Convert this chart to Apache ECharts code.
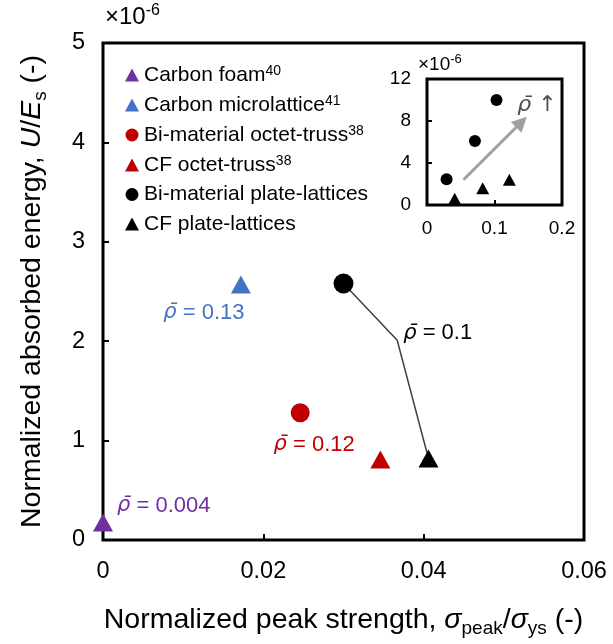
<!DOCTYPE html>
<html><head><meta charset="utf-8">
<script src="https://cdn.jsdelivr.net/npm/echarts@6/dist/echarts.min.js"></script>
<style>html,body{margin:0;padding:0;background:#fff}#c{width:613px;height:644px}</style>
</head><body><div id="c"></div>
<script>
// ---- data ----
const legendNames = ['Carbon foam', 'Carbon microlattice', 'Bi-material octet-truss', 'CF octet-truss', 'Bi-material plate-lattices', 'CF plate-lattices'];
const legendRefs = ['40', '41', '38', '38', '', ''];
const carbonFoam = [[0.0, 0.176]];
const carbonMicrolattice = [[0.0172, 2.57]];
const biOctetTruss = [[0.0246, 1.28]];
const cfOctetTruss = [[0.0346, 0.81]];
const biPlateLattices = [[0.0300, 2.58]];
const cfPlateLattices = [[0.0406, 0.82]];
const plateConnector = [[0.0300, 2.58], [0.0367, 2.01], [0.0406, 0.82]];
const densityLabels = ['0.004', '0.13', '0.12', '0.1'];
const insetBiPlate = [[0.029, 2.45], [0.071, 6.1], [0.103, 10.0]];
const insetCfPlate = [[0.041, 0.6], [0.0825, 1.6], [0.122, 2.4]];
const insetArrow = [[0.054, 2.4], [0.140, 7.9]];
const insetArrowLabelAt = [[0.163, 9.5]];
const mainXRange = [0, 0.06, 0.02];
const mainYRange = [0, 5, 1];
const insetXRange = [0, 0.2, 0.1];
const insetYRange = [0, 12, 4];

// ---- styles ----
const FF = 'Liberation Sans, Arial, sans-serif';
const RFF = 'DejaVu Sans, Liberation Sans, sans-serif';
const PURPLE = '#7030A0', BLUE = '#4472C4', RED = '#C00000', BLACK = '#000';
const RHO = 'ρ\u0304';

function rhoLabel(color, text, align, offset) {
  return {
    show: true, position: 'inside', align: align, verticalAlign: 'middle', offset: offset,
    formatter: '{i|' + RHO + '}{t| = ' + text + '}',
    rich: {
      i: {fontFamily: RFF, fontSize: 21, fontStyle: 'italic', color: color},
      t: {fontFamily: FF, fontSize: 22, color: color}
    }
  };
}

const chart = echarts.init(document.getElementById('c'), null, {renderer: 'canvas'});

function axisCommon(range, fontSize, margin, tickLen) {
  return {
    type: 'value', min: range[0], max: range[1], interval: range[2],
    axisLine: {show: false},
    axisTick: {show: true, inside: true, length: tickLen, lineStyle: {color: '#000', width: 2}},
    axisLabel: {fontFamily: FF, fontSize: fontSize, color: '#000', margin: margin},
    splitLine: {show: false}
  };
}

const nameRich = {
  t: {fontFamily: FF, fontSize: 28.5, color: '#000', lineHeight: 35},
  i: {fontFamily: FF, fontSize: 28.5, color: '#000', lineHeight: 35, fontStyle: 'italic'},
  sub: {fontFamily: FF, fontSize: 19, color: '#000', lineHeight: 16, verticalAlign: 'bottom'}
};

const solid = c => ({color: c, opacity: 1});

const option = {
  animation: false,
  backgroundColor: '#fff',
  grid: [
    {left: 103, top: 43, width: 481, height: 497, show: true, borderColor: '#000', borderWidth: 3, backgroundColor: 'transparent'},
    {left: 427, top: 79, width: 135, height: 126, show: true, borderColor: '#000', borderWidth: 3, backgroundColor: 'transparent'}
  ],
  xAxis: [
    Object.assign(axisCommon(mainXRange, 23.5, 20, 6), {
      gridIndex: 0,
      name: '{t|Normalized peak strength, }{i|σ}{sub|peak}{t|/}{i|σ}{sub|ys}{t| (-)}',
      nameLocation: 'middle', nameGap: 63,
      nameTextStyle: {rich: nameRich}
    }),
    Object.assign(axisCommon(insetXRange, 19, 14, 5), {gridIndex: 1})
  ],
  yAxis: [
    Object.assign(axisCommon(mainYRange, 23.5, 18, 6), {
      gridIndex: 0,
      name: '{t|Normalized absorbed energy, }{i|U}{t|/}{i|E}{sub|s}{t| (-)}',
      nameLocation: 'middle', nameGap: 53, nameRotate: 90,
      nameTextStyle: {rich: nameRich}
    }),
    Object.assign(axisCommon(insetYRange, 19, 16, 5), {gridIndex: 1})
  ],
  legend: {
    orient: 'vertical', left: 125, top: 64, padding: 0,
    itemWidth: 14, itemHeight: 13, itemGap: 8.5,
    data: legendNames.map((n, i) => ({name: n, icon: (i === 2 || i === 4) ? 'circle' : 'triangle'})),
    formatter: function (name) {
      const r = legendRefs[legendNames.indexOf(name)];
      return '{n|' + name + '}' + (r ? '{s|' + r + '}' : '');
    },
    textStyle: {
      fontFamily: FF, fontSize: 21, color: '#000',
      rich: {
        n: {fontFamily: FF, fontSize: 21, color: '#000', lineHeight: 22},
        s: {fontFamily: FF, fontSize: 14, color: '#000', lineHeight: 12, verticalAlign: 'top'}
      }
    }
  },
  graphic: [
    {type: 'text', left: 105, top: 3, style: {text: '{a|×10}{b|-6}', rich: {
      a: {fontFamily: FF, fontSize: 24, fill: '#000', lineHeight: 28},
      b: {fontFamily: FF, fontSize: 16, fill: '#000', lineHeight: 15, verticalAlign: 'top'}}}},
    {type: 'text', left: 418, top: 53, style: {text: '{a|×10}{b|-6}', rich: {
      a: {fontFamily: FF, fontSize: 19, fill: '#000', lineHeight: 23},
      b: {fontFamily: FF, fontSize: 13, fill: '#000', lineHeight: 12, verticalAlign: 'top'}}}}
  ],
  series: [
    {
      name: 'connector', type: 'line', xAxisIndex: 0, yAxisIndex: 0, z: 1,
      data: plateConnector.map((p, i) => i === 1 ? {value: p, label: rhoLabel('#000', densityLabels[3], 'left', [6, -7])} : p),
      showSymbol: true, symbol: 'circle', symbolSize: 1, itemStyle: {color: 'rgba(0,0,0,0)'},
      lineStyle: {color: '#404040', width: 1.5}, silent: true
    },
    {name: legendNames[0], type: 'scatter', xAxisIndex: 0, yAxisIndex: 0, z: 3, symbol: 'triangle', symbolSize: [20, 18],
      itemStyle: solid(PURPLE), data: carbonFoam, label: rhoLabel(PURPLE, densityLabels[0], 'left', [14, -17])},
    {name: legendNames[1], type: 'scatter', xAxisIndex: 0, yAxisIndex: 0, z: 3, symbol: 'triangle', symbolSize: [20, 18],
      itemStyle: solid(BLUE), data: carbonMicrolattice, label: rhoLabel(BLUE, densityLabels[1], 'center', [-37, 28])},
    {name: legendNames[2], type: 'scatter', xAxisIndex: 0, yAxisIndex: 0, z: 3, symbol: 'circle', symbolSize: 19,
      itemStyle: solid(RED), data: biOctetTruss, label: rhoLabel(RED, densityLabels[2], 'center', [14, 32])},
    {name: legendNames[3], type: 'scatter', xAxisIndex: 0, yAxisIndex: 0, z: 3, symbol: 'triangle', symbolSize: [20, 18],
      itemStyle: solid(RED), data: cfOctetTruss},
    {name: legendNames[4], type: 'scatter', xAxisIndex: 0, yAxisIndex: 0, z: 3, symbol: 'circle', symbolSize: 20,
      itemStyle: solid(BLACK), data: biPlateLattices},
    {name: legendNames[5], type: 'scatter', xAxisIndex: 0, yAxisIndex: 0, z: 3, symbol: 'triangle', symbolSize: [20, 18],
      itemStyle: solid(BLACK), data: cfPlateLattices},
    {name: 'inset-bi', type: 'scatter', xAxisIndex: 1, yAxisIndex: 1, z: 3, symbol: 'circle', symbolSize: 12,
      itemStyle: solid(BLACK), data: insetBiPlate,
      markLine: {
        silent: true, symbol: ['none', 'triangle'], symbolSize: 15,
        lineStyle: {color: '#a0a0a0', width: 3, type: 'solid'}, label: {show: false},
        data: [[{coord: insetArrow[0]}, {coord: insetArrow[1]}]]
      }},
    {name: 'inset-cf', type: 'scatter', xAxisIndex: 1, yAxisIndex: 1, z: 3, symbol: 'triangle', symbolSize: [13, 12],
      itemStyle: solid(BLACK), data: insetCfPlate},
    {name: 'inset-label', type: 'scatter', xAxisIndex: 1, yAxisIndex: 1, z: 3, symbol: 'circle', symbolSize: 1, silent: true,
      itemStyle: {color: 'rgba(0,0,0,0)'},
      data: insetArrowLabelAt,
      label: {show: true, position: 'inside', formatter: '{i|' + RHO + '}{t| ↑}',
        rich: {i: {fontFamily: RFF, fontSize: 22, fontStyle: 'italic', color: '#222'}, t: {fontFamily: RFF, fontSize: 22, color: '#222'}}}}
  ]
};
chart.setOption(option);
</script>
</body></html>
